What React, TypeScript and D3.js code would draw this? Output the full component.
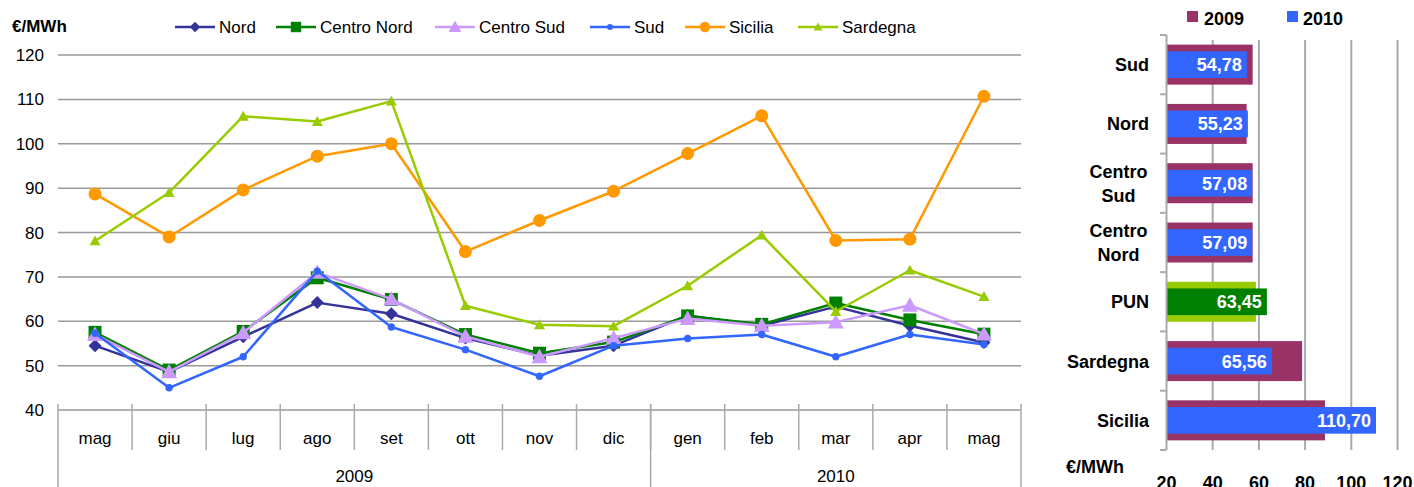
import React from 'react';
import * as d3 from 'd3';

// mesi (mag 2009 - mag 2010)
const months = ['mag', 'giu', 'lug', 'ago', 'set', 'ott', 'nov', 'dic', 'gen', 'feb', 'mar', 'apr', 'mag'];
const years = [{ label: '2009', count: 8 }, { label: '2010', count: 5 }];
const yTicks = [40, 50, 60, 70, 80, 90, 100, 110, 120];

const nord = [54.5, 48.6, 56.5, 64.2, 61.7, 56.2, 52.2, 54.5, 61.3, 59.0, 63.3, 59.0, 55.23];
const centroNord = [57.5, 49.0, 57.7, 69.8, 64.9, 57.0, 52.8, 55.3, 61.2, 59.3, 64.1, 60.3, 57.09];
const centroSud = [57.0, 48.6, 57.4, 71.0, 65.0, 56.6, 52.0, 56.2, 60.6, 59.0, 59.8, 63.6, 57.08];
const sud = [57.3, 45.0, 52.0, 71.3, 58.7, 53.6, 47.6, 54.5, 56.1, 57.0, 52.0, 57.0, 54.78];
const sicilia = [88.7, 79.0, 89.6, 97.2, 100.0, 75.7, 82.7, 89.3, 97.8, 106.3, 78.2, 78.5, 110.7];
const sardegna = [78.1, 89.0, 106.2, 105.0, 109.6, 63.5, 59.2, 58.9, 68.0, 79.4, 62.2, 71.5, 65.56];

// grafico a barre: mag 2009 vs mag 2010
const barCats = ['Sud', 'Nord', 'Centro Sud', 'Centro Nord', 'PUN', 'Sardegna', 'Sicilia'];
const bar2009 = [57.3, 54.7, 57.3, 57.3, 58.7, 78.7, 88.6];
const bar2010 = [54.78, 55.23, 57.08, 57.09, 63.45, 65.56, 110.70];
const barTicks = [20, 40, 60, 80, 100, 120];

const series = [
  { name: 'Nord', values: nord, color: '#333399', marker: 'diamond', size: 6.5 },
  { name: 'Centro Nord', values: centroNord, color: '#008000', marker: 'square', size: 6.5 },
  { name: 'Centro Sud', values: centroSud, color: '#CC99FF', marker: 'triangle', size: 8 },
  { name: 'Sud', values: sud, color: '#3366FF', marker: 'circle', size: 3.7 },
  { name: 'Sicilia', values: sicilia, color: '#FF9900', marker: 'circle', size: 6.5 },
  { name: 'Sardegna', values: sardegna, color: '#99CC00', marker: 'triangle', size: 5.5 },
];

const legendX = [175, 276, 435, 590, 685, 798];

const FONT = 'Liberation Sans, Arial, sans-serif';

const Marker = ({ type, x, y, s, color }) => {
  if (type === 'circle') return <circle cx={x} cy={y} r={s} fill={color} />;
  if (type === 'square') return <rect x={x - s} y={y - s} width={s * 2} height={s * 2} fill={color} />;
  if (type === 'diamond')
    return <path d={`M${x},${y - s}L${x + s},${y}L${x},${y + s}L${x - s},${y}Z`} fill={color} />;
  return <path d={`M${x},${y - s}L${x + s},${y + s * 0.8}L${x - s},${y + s * 0.8}Z`} fill={color} />;
};

const fmt = (v) => d3.format('.2f')(v).replace('.', ',');

export default function App() {
  const left = 58, right = 1021, top = 55, bottom = 410;
  const x = d3.scaleBand().domain(months.map((_, i) => String(i))).range([left, right]).padding(0);
  const y = d3.scaleLinear().domain([40, 120]).range([bottom, top]);
  const cx = (i) => x(String(i)) + x.bandwidth() / 2;
  const line = d3.line().x((d, i) => cx(i)).y((d) => y(d));

  // barre
  const bx = d3.scaleLinear().domain([20, 120]).range([1166.5, 1397.5]);
  const by = d3.scaleBand().domain(barCats).range([35, 450]).padding(0);
  const bw = by.bandwidth();

  let acc = 0;
  const yearBounds = years.map((yr) => {
    const start = acc;
    acc += yr.count;
    return { ...yr, x0: x(String(start)), x1: start + yr.count >= months.length ? right : x(String(start + yr.count)) };
  });

  return (
    <div style={{ position: 'absolute', left: 0, top: 0 }}>
      <svg width={1414} height={487} style={{ display: 'block', fontFamily: FONT }}>
        <rect width={1414} height={487} fill="#fff" />
        {/* grafico a linee */}
        <text x={12} y={32} fontSize={17} fontWeight="bold">€/MWh</text>
        {yTicks.map((t) => (
          <g key={t}>
            <line x1={left} x2={right} y1={y(t)} y2={y(t)} stroke="#999" strokeWidth={1.5} />
            <text x={44} y={y(t)} dy="0.36em" textAnchor="end" fontSize={17}>{t}</text>
          </g>
        ))}
        {months.map((m, i) => (
          <g key={i}>
            {i > 0 && <line x1={x(String(i))} x2={x(String(i))} y1={404} y2={450} stroke="#aaa" strokeWidth={1.5} />}
            <text x={cx(i)} y={444} textAnchor="middle" fontSize={17}>{m}</text>
          </g>
        ))}
        {yearBounds.map((yr) => (
          <g key={yr.label}>
            <line x1={yr.x0} x2={yr.x0} y1={404} y2={487} stroke="#aaa" strokeWidth={1.5} />
            <text x={(yr.x0 + yr.x1) / 2} y={482} textAnchor="middle" fontSize={17}>{yr.label}</text>
          </g>
        ))}
        <line x1={right} x2={right} y1={404} y2={487} stroke="#aaa" strokeWidth={1.5} />
        {series.map((s) => (
          <g key={s.name}>
            <path d={line(s.values)} fill="none" stroke={s.color} strokeWidth={2.5} strokeLinejoin="round" />
            {s.values.map((v, i) => (
              <Marker key={i} type={s.marker} x={cx(i)} y={y(v)} s={s.size} color={s.color} />
            ))}
          </g>
        ))}
        {series.map((s, i) => (
          <g key={s.name}>
            <line x1={legendX[i]} x2={legendX[i] + 40} y1={27} y2={27} stroke={s.color} strokeWidth={2.5} />
            <Marker type={s.marker} x={legendX[i] + 20} y={27} s={s.size * 0.8} color={s.color} />
            <text x={legendX[i] + 44} y={27} dy="0.36em" fontSize={17}>{s.name}</text>
          </g>
        ))}

        {/* grafico a barre */}
        <rect x={1187} y={11} width={11} height={11} fill="#993366" />
        <text x={1204} y={25} fontSize={18} fontWeight="bold">2009</text>
        <rect x={1287} y={11} width={11} height={11} fill="#3366FF" />
        <text x={1303} y={25} fontSize={18} fontWeight="bold">2010</text>
        {barTicks.slice(1).map((t) => (
          <line key={t} x1={bx(t)} x2={bx(t)} y1={40} y2={450} stroke="#aaa" strokeWidth={2} />
        ))}
        {barCats.map((c, i) => {
          const yc = by(c) + bw / 2;
          const pun = c === 'PUN';
          const h1 = bw * 0.675, h2 = bw * 0.45;
          const words = c.split(' ');
          return (
            <g key={c}>
              <rect x={bx(20)} y={yc - h1 / 2} width={bx(bar2009[i]) - bx(20)} height={h1} fill={pun ? '#99CC00' : '#993366'} />
              <rect x={bx(20)} y={yc - h2 / 2} width={bx(bar2010[i]) - bx(20)} height={h2} fill={pun ? '#008000' : '#3366FF'} />
              <text x={bx(bar2010[i]) - 5} y={yc} dy="0.36em" textAnchor="end" fontSize={18} fontWeight="bold" fill="#fff">{fmt(bar2010[i])}</text>
              {words.length === 1 ? (
                <text x={1149} y={yc} dy="0.36em" textAnchor="end" fontSize={18} fontWeight="bold">{c}</text>
              ) : (
                words.map((w, k) => (
                  <text key={w} x={1118.5} y={yc + (k - 0.5) * 24} dy="0.36em" textAnchor="middle" fontSize={18} fontWeight="bold">{w}</text>
                ))
              )}
            </g>
          );
        })}
        <line x1={bx(20)} x2={bx(20)} y1={35} y2={450} stroke="#aaa" strokeWidth={2} />
        {barCats.concat(['_']).map((c, i) => (
          <line key={i} x1={1160} x2={bx(20)} y1={35 + i * bw} y2={35 + i * bw} stroke="#aaa" strokeWidth={2} />
        ))}
        <text x={1066} y={473} fontSize={18} fontWeight="bold">€/MWh</text>
        {barTicks.map((t) => (
          <text key={t} x={bx(t)} y={489} textAnchor="middle" fontSize={18} fontWeight="bold">{t}</text>
        ))}
      </svg>
    </div>
  );
}
